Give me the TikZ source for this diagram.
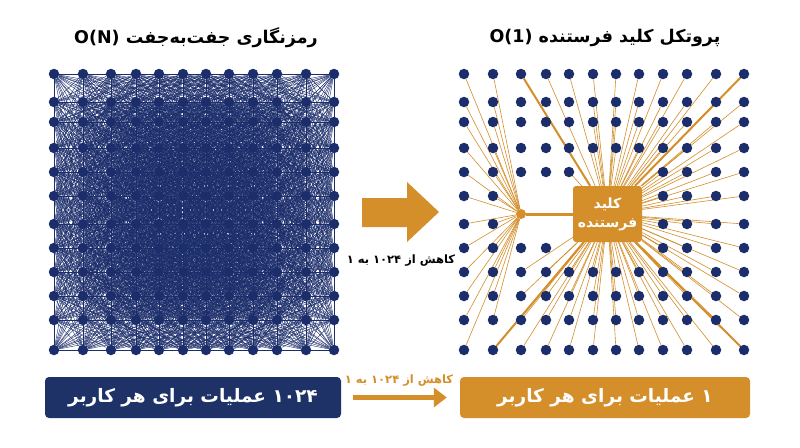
\documentclass[tikz,border=0pt]{standalone}
\usepackage{fontspec}
\setmainfont{DejaVu Sans}
\newfontfamily\arabicfont[Script=Arabic]{DejaVu Sans}
\TeXXeTstate=1
\usetikzlibrary{arrows.meta, backgrounds}

\definecolor{dotblue}{RGB}{27,45,107}
\definecolor{boxblue}{RGB}{30,50,104}
\definecolor{keyorange}{RGB}{212,142,42}

\begin{document}
\begin{tikzpicture}[
        x=1pt, y=-1pt,
        my-dot/.style={
            circle,
            fill=dotblue,
            inner sep=0pt,
            minimum size=10.5pt,
        },
        pair-line/.style={draw=dotblue, line width=0.4pt},
        ray-line/.style={draw=keyorange, line width=0.6pt},
        ray-thick/.style={draw=keyorange, line width=2pt},
        head-text/.style={font=\bfseries\fontsize{17.5}{20}\selectfont},
        small-text/.style={font=\bfseries\fontsize{11.5}{14}\selectfont},
        key-box/.style={
            fill=keyorange,
            rounded corners=3pt,
            minimum width=69pt,
            minimum height=56pt,
            inner sep=0pt,
            text=white,
            align=center,
            font=\bfseries\fontsize{14}{19}\selectfont,
        },
        ops-box/.style={
            rounded corners=4pt,
            minimum height=41pt,
            inner sep=0pt,
            text=white,
            font=\bfseries\fontsize{18.5}{20}\selectfont,
        },
    ]
    \useasboundingbox (0, 0) rectangle (800, 447);
    \def\gridx{{0,29,57,82,105,129,152,175,199,223,252,280}}
    \def\gridy{{74,102,122,148,172,196,224,248,272,296,320,350}}

    \node[head-text] (title-pair) at (196, 38)
        {\arabicfont\beginR رمزنگاری جفت‌به‌جفت \beginL{\rmfamily O(N)}\endL\endR};
    \node[head-text] (title-key) at (605, 38)
        {\arabicfont\beginR پروتکل کلید فرستنده \beginL{\rmfamily O(1)}\endL\endR};

    % pairwise grid
    \foreach \r in {1,...,12}
    {
        \foreach \c in {1,...,12}
        {
            \pgfmathsetmacro{\px}{54+\gridx[\c-1]}
            \pgfmathsetmacro{\py}{\gridy[\r-1]}
            \node[my-dot] (pair-\r-\c) at (\px, \py) {};
        }
    }

    % sender key grid
    \foreach \r/\cols in {1/{1,...,12}, 2/{1,...,12}, 3/{1,...,12}, 4/{1,...,12},
        5/{1,2,3,4,5,9,10,11,12}, 6/{1,2,9,10,11,12}, 7/{1,2,9,10,11,12},
        8/{1,2,3,4,9,10,11,12}, 9/{1,...,12}, 10/{1,...,12}, 11/{1,...,12},
        12/{1,...,12}}
    {
        \foreach \c in \cols
        {
            \pgfmathsetmacro{\px}{464+\gridx[\c-1]}
            \pgfmathsetmacro{\py}{\gridy[\r-1]}
            \node[my-dot] (user-\r-\c) at (\px, \py) {};
        }
    }

    \node[key-box] (key) at (607.5, 214)
        {\arabicfont\beginR کلید\endR\\\arabicfont\beginR فرستنده\endR};
    \node[circle, fill=keyorange, inner sep=0pt, minimum size=10pt] (hub) at (521, 214) {};

    \begin{pgfonlayer}{background}
        \fill[white] (0, 0) rectangle (800, 447);

        \foreach \r in {1,...,12}
        {
            \foreach \c in {1,...,12}
            {
                \foreach \dr/\dc in {0/1, 1/0, 1/1, 1/-1, 1/2, 2/1, 1/-2, 2/-1,
                    1/3, 3/1, 1/-3, 3/-1, 2/3, 3/2, 2/-3, 3/-2, 1/4, 4/1, 1/-4, 4/-1,
                    2/5, 5/2, 2/-5, 5/-2, 3/4, 4/3, 3/-4, 4/-3, 1/6, 6/1, 1/-6, 6/-1}
                {
                    \pgfmathtruncatemacro{\rr}{\r+\dr}
                    \pgfmathtruncatemacro{\cc}{\c+\dc}
                    \ifnum\rr<13 \ifnum\cc>0 \ifnum\cc<13
                        \draw[pair-line] (pair-\r-\c) -- (pair-\rr-\cc);
                    \fi\fi\fi
                }
            }
        }

        \foreach \r/\cols in {1/{3,...,12}, 2/{6,...,12}, 3/{6,...,12}, 4/{6,...,12},
            5/{5,9,10,11,12}, 6/{9,...,12}, 7/{9,...,12}, 8/{9,...,12},
            9/{3,...,12}, 10/{3,...,12}, 11/{3,...,12}, 12/{2,...,12}}
        {
            \foreach \c in \cols
            {
                \draw[ray-line] (key) -- (user-\r-\c);
            }
        }

        \foreach \r in {1,...,12}
        {
            \draw[ray-line] (hub) -- (user-\r-1);
        }
        \foreach \r in {1,...,11}
        {
            \draw[ray-line] (hub) -- (user-\r-2);
        }

        \draw[ray-thick] (key) -- (user-1-3);
        \draw[ray-thick] (key) -- (user-1-12);
        \draw[ray-thick] (key) -- (user-12-2);
        \draw[ray-thick] (key) -- (user-12-12);
        \draw[ray-thick, line width=3pt] (hub) -- (key);
    \end{pgfonlayer}

    % big arrow
    \fill[keyorange] (362, 198) -- (407, 198) -- (407, 182) -- (439, 212)
        -- (407, 242) -- (407, 227) -- (362, 227) -- cycle;
    \node[small-text] (drop-mid) at (401, 261)
        {\arabicfont\beginR کاهش از ۱۰۲۴ به ۱\endR};

    \node[ops-box, fill=boxblue, minimum width=296pt] (ops-pair) at (193, 397.5)
        {\arabicfont\beginR ۱۰۲۴ عملیات برای هر کاربر\endR};
    \node[ops-box, fill=keyorange, minimum width=290pt] (ops-key) at (605, 397.5)
        {\arabicfont\beginR ۱ عملیات برای هر کاربر\endR};

    \draw[-{Triangle[length=13pt, width=19pt]}, keyorange, line width=5pt,
        shorten <=12pt, shorten >=13pt] (ops-pair) -- (ops-key);
    \node[small-text, text=keyorange] (drop-low) at (399, 381)
        {\arabicfont\beginR کاهش از ۱۰۲۴ به ۱\endR};
\end{tikzpicture}
\end{document}
